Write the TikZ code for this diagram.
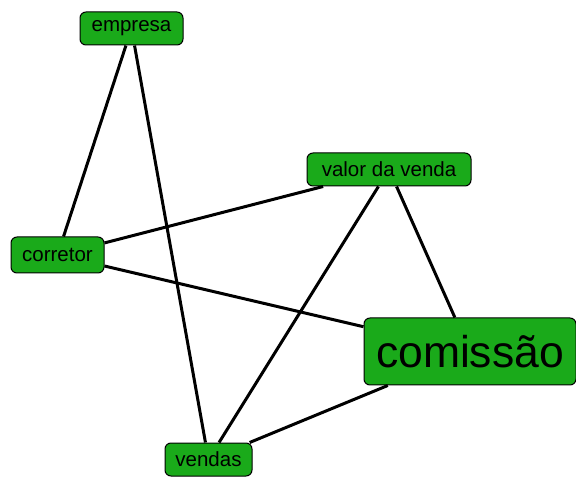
\documentclass[tikz,border=0pt]{standalone}
\usepackage{fontspec}
\setmainfont{Liberation Sans}
\usepackage{tikz}
\definecolor{boxgreen}{RGB}{26,170,26}
\tikzset{
  topic/.style={draw=black,line width=1pt,fill=boxgreen,rounded corners=6pt,inner sep=0pt,font=\fontsize{20.5}{20.5}\selectfont},
  link/.style={line width=3pt,black}
}
\begin{document}
\begin{tikzpicture}[x=1pt,y=-1pt]
\useasboundingbox (0,0) rectangle (576,478);
\node[topic,minimum width=103pt,minimum height=33pt] (emp) at (131.5,28.5) {empresa};
\node[topic,minimum width=93pt,minimum height=36pt] (cor) at (57.5,255) {corretor};
\node[topic,minimum width=164pt,minimum height=33pt] (val) at (389,169.5) {valor da venda};
\node[topic,minimum width=212pt,minimum height=67pt,font=\fontsize{44.5}{44.5}\selectfont] (com) at (470,351.5) {comiss\~ao};
\node[topic,minimum width=87pt,minimum height=33pt] (ven) at (208.5,459.5) {vendas};
\foreach \from/\to in {emp/cor,emp/ven,cor/val,cor/com,val/ven,val/com,ven/com}
\draw[link] (\from) -- (\to);
\end{tikzpicture}
\end{document}
